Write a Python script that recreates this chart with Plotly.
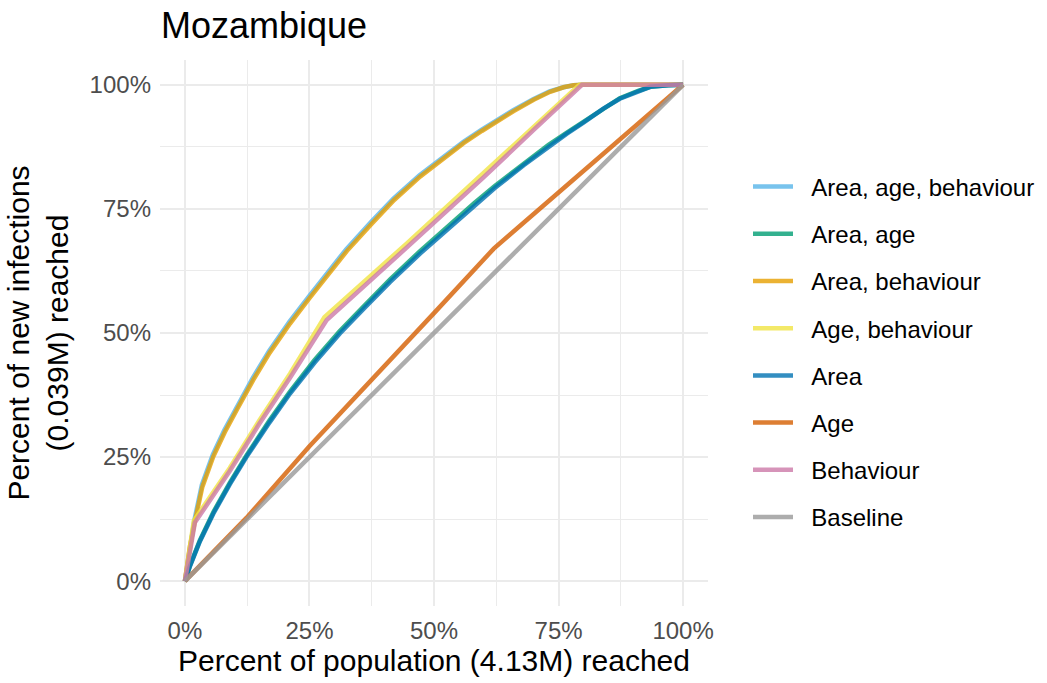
import plotly.graph_objects as go

# Cumulative share of new infections reached vs share of population reached
area_age_beh_x = [0, 0.01, 0.019, 0.034, 0.056, 0.079, 0.103, 0.136, 0.169, 0.21, 0.249, 0.289, 0.324, 0.374, 0.419, 0.471, 0.519, 0.559, 0.595, 0.629, 0.659, 0.699, 0.732, 0.76, 0.78, 0.80, 1.0]
area_age_beh_y = [0, 0.073, 0.123, 0.194, 0.255, 0.304, 0.349, 0.409, 0.464, 0.523, 0.574, 0.626, 0.669, 0.724, 0.771, 0.818, 0.856, 0.885, 0.909, 0.931, 0.949, 0.971, 0.987, 0.995, 0.999, 1.0, 1.0]

area_age_x = [0, 0.01, 0.03, 0.057, 0.09, 0.124, 0.17, 0.211, 0.26, 0.311, 0.36, 0.412, 0.472, 0.53, 0.58, 0.622, 0.68, 0.73, 0.766, 0.80, 0.84, 0.873, 0.91, 0.934, 0.97, 1.0]
area_age_y = [0, 0.031, 0.082, 0.139, 0.198, 0.254, 0.324, 0.382, 0.445, 0.504, 0.555, 0.608, 0.665, 0.717, 0.761, 0.796, 0.842, 0.879, 0.903, 0.926, 0.953, 0.973, 0.988, 0.996, 0.999, 1.0]

area_beh_x = [0, 0.01, 0.02, 0.035, 0.057, 0.08, 0.104, 0.137, 0.17, 0.211, 0.25, 0.29, 0.325, 0.375, 0.42, 0.472, 0.52, 0.56, 0.596, 0.63, 0.66, 0.70, 0.733, 0.76, 0.78, 0.80, 1.0]
area_beh_y = [0, 0.07, 0.12, 0.19, 0.251, 0.30, 0.345, 0.405, 0.46, 0.519, 0.57, 0.622, 0.665, 0.72, 0.768, 0.815, 0.853, 0.883, 0.907, 0.929, 0.947, 0.97, 0.986, 0.995, 0.999, 1.0, 1.0]

age_beh_x = [0, 0.018, 0.09, 0.15, 0.211, 0.28, 0.445, 0.6, 0.70, 0.792, 1.0]
age_beh_y = [0, 0.122, 0.228, 0.325, 0.418, 0.532, 0.68, 0.822, 0.915, 1.0, 1.0]

area_x = [0, 0.01, 0.03, 0.057, 0.09, 0.124, 0.17, 0.211, 0.26, 0.311, 0.36, 0.412, 0.472, 0.53, 0.58, 0.622, 0.68, 0.73, 0.766, 0.80, 0.84, 0.873, 0.91, 0.934, 0.97, 1.0]
area_y = [0, 0.03, 0.08, 0.136, 0.195, 0.251, 0.32, 0.378, 0.44, 0.499, 0.55, 0.603, 0.66, 0.712, 0.756, 0.792, 0.838, 0.876, 0.901, 0.924, 0.952, 0.972, 0.988, 0.996, 0.999, 1.0]

age_x = [0, 0.124, 0.25, 0.38, 0.5, 0.62, 0.75, 0.88, 1.0]
age_y = [0, 0.128, 0.272, 0.41, 0.54, 0.67, 0.782, 0.895, 1.0]

beh_x = [0, 0.02, 0.09, 0.15, 0.211, 0.2845, 0.445, 0.6, 0.70, 0.797, 1.0]
beh_y = [0, 0.118, 0.222, 0.318, 0.41, 0.526, 0.672, 0.814, 0.909, 1.0, 1.0]

base_x = [0, 1.0]
base_y = [0, 1.0]

series_names = ["Area, age, behaviour", "Area, age", "Area, behaviour", "Age, behaviour",
                "Area", "Age", "Behaviour", "Baseline"]
series_x = [area_age_beh_x, area_age_x, area_beh_x, age_beh_x, area_x, age_x, beh_x, base_x]
series_y = [area_age_beh_y, area_age_y, area_beh_y, age_beh_y, area_y, age_y, beh_y, base_y]
series_colors = ["rgba(86,180,233,0.8)", "rgba(0,158,115,0.8)", "rgba(230,159,0,0.8)",
                 "rgba(240,228,66,0.8)", "rgba(0,114,178,0.8)", "rgba(213,94,0,0.8)",
                 "rgba(204,121,167,0.8)", "rgba(153,153,153,0.8)"]

tick_vals = [0, 0.25, 0.5, 0.75, 1.0]
tick_text = ["0%", "25%", "50%", "75%", "100%"]

FONT = "Liberation Sans, Arial, sans-serif"
NBSP = "\u00a0\u00a0"

fig = go.Figure()
for name, xs, ys, col in zip(series_names, series_x, series_y, series_colors):
    fig.add_trace(go.Scatter(x=xs, y=ys, mode="lines", name=NBSP + name, legendgroup=name,
                             line=dict(color=col, width=4.5)))

axis_common = dict(
    range=[-0.05, 1.05], tickvals=tick_vals, ticktext=tick_text,
    showgrid=True, gridcolor="#EBEBEB", gridwidth=2,
    minor=dict(dtick=0.125, tick0=0, showgrid=True, gridcolor="#EBEBEB", gridwidth=1.2),
    zeroline=False, showline=False, ticks="",
    tickfont=dict(family=FONT, size=24, color="#4D4D4D"),
    fixedrange=True,
)

fig.update_layout(
    width=1047, height=683,
    margin=dict(l=160, r=339, t=60, b=77),
    paper_bgcolor="white", plot_bgcolor="white",
    font=dict(family=FONT, color="black"),
    title=dict(text="Mozambique", x=161 / 1047, xref="container", xanchor="left",
               y=1 - 25 / 683, yref="container", yanchor="middle",
               font=dict(family=FONT, size=36, color="black")),
    xaxis=dict(axis_common, ticklabelstandoff=8,
               title=dict(text="Percent of population (4.13M) reached", standoff=6,
                          font=dict(family=FONT, size=30, color="black"))),
    yaxis=dict(axis_common, ticklabelstandoff=8,
               title=dict(text="Percent of new infections<br>(0.039M) reached", standoff=12,
                          font=dict(family=FONT, size=30, color="black"))),
    legend=dict(x=748 / 1047, xref="container", xanchor="left",
                y=1 - 352 / 683, yref="container", yanchor="middle",
                font=dict(family=FONT, size=24, color="black"),
                tracegroupgap=13, bgcolor="rgba(0,0,0,0)", itemwidth=40,
                maxheight=680),
    showlegend=True,
)

fig.write_html("out.html")
